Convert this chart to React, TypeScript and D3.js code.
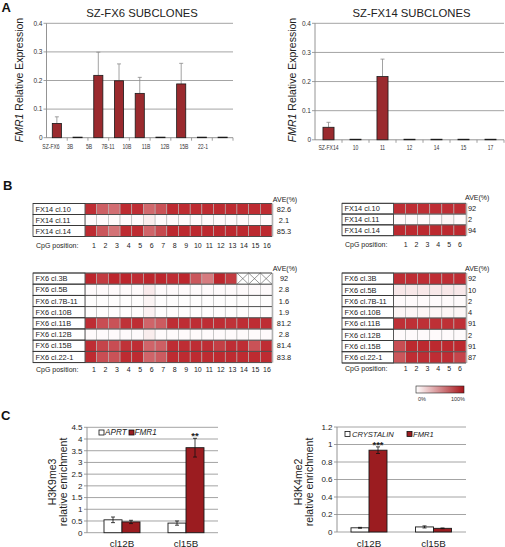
import React from 'react';
import * as d3 from 'd3';

// ---------- Panel A data ----------
const fx6Categories = ['SZ-FX6', '3B', '5B', '7B-11', '10B', '11B', '12B', '15B', '22-1'];
const fx6Values = [0.05, 0.002, 0.218, 0.199, 0.155, 0.002, 0.188, 0.002, 0.002];
const fx6Errors = [0.023, 0, 0.081, 0.059, 0.056, 0, 0.072, 0, 0];
const fx14Categories = ['SZ-FX14', '10', '11', '12', '14', '15', '17'];
const fx14Values = [0.043, 0.002, 0.217, 0.002, 0.002, 0.002, 0.002];
const fx14Errors = [0.017, 0, 0.06, 0, 0, 0, 0];
const exprTicks = [0, 0.1, 0.2, 0.3, 0.4];
const exprTickLabels = ['0', '0.1', '0.2', '0.3', '0.4'];

// ---------- Panel B data ----------
const cpg16 = ['1', '2', '3', '4', '5', '6', '7', '8', '9', '10', '11', '12', '13', '14', '15', '16'];
const cpg6 = ['1', '2', '3', '4', '5', '6'];
const fx14Rows = ['FX14 cl.10', 'FX14 cl.11', 'FX14 cl.14'];
const fx14Ave16 = ['82.6', '2.1', '85.3'];
const fx14Meth16 = [
  [92, 70, 64, 93, 92, 66, 76, 93, 93, 93, 93, 93, 93, 93, 93, 93],
  [2, 2, 2, 2, 2, 8, 2, 2, 2, 2, 2, 2, 2, 2, 2, 2],
  [93, 74, 62, 93, 93, 68, 80, 94, 94, 94, 94, 94, 94, 94, 94, 94],
];
const fx14Ave6 = ['92', '2', '94'];
const fx14Meth6 = [
  [92, 92, 92, 92, 92, 92],
  [2, 2, 2, 2, 4, 2],
  [94, 94, 94, 94, 94, 94],
];
const fx6Rows = ['FX6 cl.3B', 'FX6 cl.5B', 'FX6 cl.7B-11', 'FX6 cl.10B', 'FX6 cl.11B', 'FX6 cl.12B', 'FX6 cl.15B', 'FX6 cl.22-1'];
const fx6Ave16 = ['92', '2.8', '1.6', '1.9', '81.2', '2.8', '81.4', '83.8'];
const fx6Meth16: (number | null)[][] = [
  [95, 86, 95, 95, 92, 95, 95, 92, 95, 74, 58, 95, 86, null, null, null],
  [2, 2, 2, 2, 2, 9, 2, 2, 2, 2, 2, 2, 2, 2, 2, 2],
  [1, 1, 1, 1, 1, 5, 1, 1, 1, 1, 1, 1, 1, 1, 1, 1],
  [1, 1, 1, 1, 1, 6, 1, 1, 1, 1, 1, 1, 1, 1, 1, 1],
  [92, 78, 76, 90, 92, 68, 72, 92, 92, 92, 92, 92, 90, 92, 92, 92],
  [2, 2, 2, 2, 2, 8, 2, 2, 2, 2, 2, 2, 2, 2, 2, 2],
  [92, 82, 78, 90, 92, 68, 70, 92, 92, 92, 92, 84, 92, 92, 76, 92],
  [93, 78, 76, 93, 93, 68, 72, 93, 93, 93, 93, 93, 93, 93, 93, 93],
];
const fx6Ave6 = ['92', '10', '2', '4', '91', '2', '91', '87'];
const fx6Meth6 = [
  [92, 92, 92, 92, 92, 92],
  [10, 10, 10, 10, 10, 10],
  [2, 2, 2, 2, 2, 2],
  [4, 4, 4, 4, 4, 4],
  [91, 91, 91, 91, 91, 91],
  [2, 2, 2, 2, 2, 2],
  [78, 94, 94, 94, 94, 94],
  [74, 92, 92, 92, 92, 82],
];

// ---------- Panel C data ----------
const chipGroups = ['cl12B', 'cl15B'];
const h3k9Aprt = [0.55, 0.41];
const h3k9AprtErr = [0.12, 0.09];
const h3k9Fmr1 = [0.46, 3.63];
const h3k9Fmr1Err = [0.07, 0.4];
const h3k9Sig = ['', '**'];
const h3k9Ticks = [0, 0.5, 1, 1.5, 2, 2.5, 3, 3.5, 4, 4.5];
const h3k9TickLabels = ['0', '0.5', '1', '1.5', '2', '2.5', '3', '3.5', '4', '4.5'];
const h3k4Cryst = [0.048, 0.058];
const h3k4CrystErr = [0.005, 0.012];
const h3k4Fmr1 = [0.935, 0.042];
const h3k4Fmr1Err = [0.038, 0.004];
const h3k4Sig = ['***', ''];
const h3k4Ticks = [0, 0.2, 0.4, 0.6, 0.8, 1, 1.2];
const h3k4TickLabels = ['0', '0.2', '0.4', '0.6', '0.8', '1', '1.2'];

const FONT = "'Liberation Sans', Arial, Helvetica, sans-serif";
const HEAT_RED = '#b81b22';
const heatColor = d3.scaleLinear<string>().domain([0, 100]).range(['#ffffff', HEAT_RED]).interpolate(d3.interpolateRgb);

type APanelProps = {
  cats: string[]; vals: number[]; errs: number[];
  x0: number; x1: number; y0: number; yTop: number; barFrac: number;
  title: string; titleX: number; yLabelX: number;
  labelRange?: [number, number]; labelY: number;
};

function ExprPanel(p: APanelProps) {
  const x = d3.scaleBand<string>().domain(p.cats).range([p.x0, p.x1]).padding(0);
  const y = d3.scaleLinear().domain([0, 0.4]).range([p.y0, p.yTop]);
  const bw = x.step() * p.barFrac;
  const lab = p.labelRange
    ? d3.scalePoint<string>().domain(p.cats).range(p.labelRange)
    : (c: string) => (x(c) as number) + x.step() / 2;
  return (
    <g fontFamily={FONT}>
      <text x={p.titleX} y={16.7} textAnchor="middle" fontSize={11.3} fill="#222">{p.title}</text>
      {exprTicks.map((t, i) => (
        <g key={i}>
          {t > 0 && <line x1={p.x0} x2={p.x1} y1={y(t)} y2={y(t)} stroke="#9a9a9a" strokeWidth={0.9} />}
          <line x1={p.x0 - 3} x2={p.x0} y1={y(t)} y2={y(t)} stroke="#888" strokeWidth={0.8} />
          <text x={p.x0 - 4} y={y(t)} dy="0.35em" textAnchor="end" fontSize={6.5} fill="#333">{exprTickLabels[i]}</text>
        </g>
      ))}
      <line x1={p.x0} x2={p.x0} y1={p.y0} y2={y(0.4)} stroke="#888" strokeWidth={0.9} />
      <line x1={p.x0} x2={p.x1} y1={p.y0} y2={p.y0} stroke="#888" strokeWidth={0.9} />
      {p.cats.map((c, i) => (
        <line key={i} x1={(x(c) as number) + x.step()} x2={(x(c) as number) + x.step()} y1={p.y0} y2={p.y0 + 3} stroke="#888" strokeWidth={0.8} />
      ))}
      {p.cats.map((c, i) => {
        const cx = (x(c) as number) + x.step() / 2;
        const top = y(p.vals[i]);
        return (
          <g key={c}>
            {p.errs[i] > 0 && (
              <g stroke="#8a8a8a" strokeWidth={0.8}>
                <line x1={cx} x2={cx} y1={top} y2={y(p.vals[i] + p.errs[i])} />
                <line x1={cx - 2} x2={cx + 2} y1={y(p.vals[i] + p.errs[i])} y2={y(p.vals[i] + p.errs[i])} />
              </g>
            )}
            <rect x={cx - bw / 2} y={top} width={bw} height={p.y0 - top} fill="#9a2a2e" stroke="#1a1a1a" strokeWidth={0.8} />
          </g>
        );
      })}
      {p.cats.map((c) => (
        <text key={c} transform={`translate(${lab(c)},${p.labelY}) scale(0.72,1)`} textAnchor="middle" fontSize={7} fill="#333">{c}</text>
      ))}
      <text transform={`translate(${p.yLabelX},80) rotate(-90)`} textAnchor="middle" fontSize={10.5} fill="#222">
        <tspan fontStyle="italic">FMR1</tspan> Relative Expression
      </text>
    </g>
  );
}

type HeatProps = {
  rows: string[]; aves: string[]; meth: (number | null)[][]; cols: string[];
  x0: number; xH: number; xH1: number; yTop: number; rowH: number;
  aveX: number; aveAnchor: 'middle' | 'start'; aveHeadX: number; aveHeadY: number;
  cpgX0: number; cpgX1: number; cpgLabelX: number; cpgY: number;
};

function HeatTable(p: HeatProps) {
  const x = d3.scaleBand<string>().domain(p.cols).range([p.xH, p.xH1]);
  const y = d3.scaleBand<string>().domain(p.rows).range([p.yTop, p.yTop + p.rowH * p.rows.length]);
  const cpgX = d3.scalePoint<string>().domain(p.cols).range([p.cpgX0, p.cpgX1]);
  const yBot = p.yTop + p.rowH * p.rows.length;
  return (
    <g fontFamily={FONT} fill="#222">
      <text x={p.aveHeadX} y={p.aveHeadY} fontSize={7} textAnchor={p.aveAnchor === 'middle' ? 'middle' : 'start'}>AVE(%)</text>
      {p.rows.map((r, ri) => (
        <g key={r}>
          {p.cols.map((c, ci) => {
            const v = p.meth[ri][ci];
            const cx = x(c) as number;
            const cy = y(r) as number;
            return (
              <g key={c}>
                <rect x={cx} y={cy} width={x.bandwidth()} height={y.bandwidth()}
                  fill={v === null ? '#fff' : heatColor(v)} stroke="#b4b4b4" strokeWidth={0.6} />
                {v === null && (
                  <g stroke="#555" strokeWidth={0.6}>
                    <line x1={cx} y1={cy} x2={cx + x.bandwidth()} y2={cy + y.bandwidth()} />
                    <line x1={cx} y1={cy + y.bandwidth()} x2={cx + x.bandwidth()} y2={cy} />
                  </g>
                )}
              </g>
            );
          })}
          <rect x={p.x0} y={y(r)} width={p.xH - p.x0} height={y.bandwidth()} fill="#fff" stroke="#333" strokeWidth={0.8} />
          <text x={p.x0 + 2.5} y={(y(r) as number) + y.bandwidth() / 2} dy="0.36em" fontSize={7.4}>{r}</text>
          <text x={p.aveX} y={(y(r) as number) + y.bandwidth() / 2} dy="0.36em" fontSize={7.4} textAnchor={p.aveAnchor}>{p.aves[ri]}</text>
        </g>
      ))}
      {d3.range(p.rows.length + 1).map((i) => (
        <line key={i} x1={p.x0} x2={p.xH1} y1={p.yTop + i * p.rowH} y2={p.yTop + i * p.rowH} stroke="#333" strokeWidth={0.8} />
      ))}
      <line x1={p.xH1 + 0.6} x2={p.xH1 + 0.6} y1={p.yTop} y2={yBot} stroke="#b0b0b0" strokeWidth={1.4} />
      <text x={p.cpgLabelX} y={p.cpgY} fontSize={7}>CpG position:</text>
      {p.cols.map((c) => (
        <text key={c} x={cpgX(c)} y={p.cpgY} fontSize={7} textAnchor="middle">{c}</text>
      ))}
    </g>
  );
}

type ChipProps = {
  a: number[]; aErr: number[]; b: number[]; bErr: number[]; sig: string[];
  ticks: number[]; tickLabels: string[]; max: number;
  x0: number; x1: number; bandStart: number; bandEnd: number; y0: number; yTop: number;
  label1: string; label2: string; yl1X: number; yl2X: number;
  legendA: [number, number]; legendB: [number, number]; legendY: number; legendNames: [string, string]; legendFont: number;
};

function ChipPanel(p: ChipProps) {
  const x = d3.scaleBand<string>().domain(chipGroups).range([p.bandStart, p.bandEnd]);
  const y = d3.scaleLinear().domain([0, p.max]).range([p.y0, p.yTop]);
  const bw = 18;
  const RED = '#9b1c20';
  const series = [
    { v: p.a, e: p.aErr, fill: '#ffffff', off: -bw },
    { v: p.b, e: p.bErr, fill: RED, off: 0 },
  ];
  return (
    <g fontFamily={FONT} fill="#222">
      {p.ticks.map((t, i) => (
        <g key={i}>
          <line x1={p.x0} x2={p.x1} y1={y(t)} y2={y(t)} stroke="#9a9a9a" strokeWidth={0.9} />
          <line x1={p.x0 - 3} x2={p.x0} y1={y(t)} y2={y(t)} stroke="#888" strokeWidth={0.8} />
          <text x={p.x0 - 4.5} y={y(t)} dy="0.35em" textAnchor="end" fontSize={8}>{p.tickLabels[i]}</text>
        </g>
      ))}
      <line x1={p.x0} x2={p.x0} y1={p.y0} y2={p.yTop} stroke="#888" strokeWidth={0.9} />
      {chipGroups.map((g, gi) => {
        const cx = (x(g) as number) + x.bandwidth() / 2;
        return (
          <g key={g}>
            {series.map((s, si) => {
              const bx = cx + s.off;
              const top = y(s.v[gi]);
              const mid = bx + bw / 2;
              return (
                <g key={si}>
                  <rect x={bx} y={top} width={bw} height={p.y0 - top} fill={s.fill} stroke="#1a1a1a" strokeWidth={0.9} />
                  <g stroke="#111" strokeWidth={0.8}>
                    <line x1={mid} x2={mid} y1={y(s.v[gi] - s.e[gi])} y2={y(s.v[gi] + s.e[gi])} />
                    <line x1={mid - 2} x2={mid + 2} y1={y(s.v[gi] - s.e[gi])} y2={y(s.v[gi] - s.e[gi])} />
                    <line x1={mid - 2} x2={mid + 2} y1={y(s.v[gi] + s.e[gi])} y2={y(s.v[gi] + s.e[gi])} />
                  </g>
                </g>
              );
            })}
            {p.sig[gi] && (
              <text x={cx + bw / 2} y={y(p.b[gi] + p.bErr[gi]) + 1} textAnchor="middle" fontSize={9.5} fontWeight="bold">{p.sig[gi]}</text>
            )}
            <text x={cx} y={546.5} textAnchor="middle" fontSize={9.8}>{g}</text>
          </g>
        );
      })}
      <rect x={p.legendA[0]} y={p.legendY} width={5} height={5} fill="#fff" stroke="#111" strokeWidth={0.8} />
      <text x={p.legendA[1]} y={p.legendY + 5} fontSize={p.legendFont} fontStyle="italic">{p.legendNames[0]}</text>
      <rect x={p.legendB[0]} y={p.legendY} width={5} height={5} fill={RED} stroke="#111" strokeWidth={0.8} />
      <text x={p.legendB[1]} y={p.legendY + 5} fontSize={p.legendFont} fontStyle="italic">{p.legendNames[1]}</text>
      <text transform={`translate(${p.yl1X},482) rotate(-90)`} textAnchor="middle" fontSize={10.5}>{p.label1}</text>
      <text transform={`translate(${p.yl2X},482) rotate(-90)`} textAnchor="middle" fontSize={10.5}>{p.label2}</text>
    </g>
  );
}

export default function App() {
  return (
    <svg width={505} height={547} style={{ position: 'absolute', left: 0, top: 0, background: '#fff' }}>
      <defs>
        <linearGradient id="methGrad" x1="0" x2="1" y1="0" y2="0">
          <stop offset="0" stopColor="#ffffff" />
          <stop offset="1" stopColor="#a8141a" />
        </linearGradient>
      </defs>
      <g fontFamily={FONT} fontWeight="bold" fontSize={13} fill="#111">
        <text x={1.5} y={12}>A</text>
        <text x={3} y={190}>B</text>
        <text x={1} y={420}>C</text>
      </g>

      <ExprPanel cats={fx6Categories} vals={fx6Values} errs={fx6Errors}
        x0={46.5} x1={233} y0={137.7} yTop={23.3} barFrac={0.44}
        title="SZ-FX6 SUBCLONES" titleX={142} yLabelX={23}
        labelRange={[51, 203]} labelY={149} />
      <ExprPanel cats={fx14Categories} vals={fx14Values} errs={fx14Errors}
        x0={315} x1={504} y0={139.8} yTop={23.3} barFrac={0.41}
        title="SZ-FX14 SUBCLONES" titleX={411.5} yLabelX={295.5}
        labelY={150} />

      <HeatTable rows={fx14Rows} aves={fx14Ave16} meth={fx14Meth16} cols={cpg16}
        x0={33} xH={85} xH1={272} yTop={203.5} rowH={11}
        aveX={284} aveAnchor="middle" aveHeadX={285} aveHeadY={201.5}
        cpgX0={94} cpgX1={267} cpgLabelX={36} cpgY={247.5} />
      <HeatTable rows={fx6Rows} aves={fx6Ave16} meth={fx6Meth16} cols={cpg16}
        x0={33} xH={85} xH1={272} yTop={273} rowH={11.2}
        aveX={284} aveAnchor="middle" aveHeadX={285} aveHeadY={270.5}
        cpgX0={94} cpgX1={267} cpgLabelX={36} cpgY={372} />
      <HeatTable rows={fx14Rows} aves={fx14Ave6} meth={fx14Meth6} cols={cpg6}
        x0={342} xH={393.5} xH1={466} yTop={203.3} rowH={10.8}
        aveX={468} aveAnchor="start" aveHeadX={465} aveHeadY={200}
        cpgX0={405.7} cpgX1={460} cpgLabelX={345} cpgY={247} />
      <HeatTable rows={fx6Rows} aves={fx6Ave6} meth={fx6Meth6} cols={cpg6}
        x0={342} xH={393.5} xH1={466} yTop={273} rowH={11.25}
        aveX={468} aveAnchor="start" aveHeadX={465} aveHeadY={270.5}
        cpgX0={405.7} cpgX1={460} cpgLabelX={345} cpgY={371} />

      <rect x={416} y={386} width={48} height={7} fill="url(#methGrad)" stroke="#222" strokeWidth={0.6} />
      <text x={418} y={401} fontSize={5.5} fontFamily={FONT} fill="#333">0%</text>
      <text x={465} y={401} fontSize={5.5} fontFamily={FONT} fill="#333" textAnchor="end">100%</text>

      <ChipPanel a={h3k9Aprt} aErr={h3k9AprtErr} b={h3k9Fmr1} bErr={h3k9Fmr1Err} sig={h3k9Sig}
        ticks={h3k9Ticks} tickLabels={h3k9TickLabels} max={4.5}
        x0={87} x1={218} bandStart={90} bandEnd={218} y0={532.7} yTop={427.3}
        label1="H3K9me3" label2="relative enrichment" yl1X={56} yl2X={67}
        legendA={[99, 105]} legendB={[129, 134.5]} legendY={430} legendNames={['APRT', 'FMR1']} legendFont={8.2} />
      <ChipPanel a={h3k4Cryst} aErr={h3k4CrystErr} b={h3k4Fmr1} bErr={h3k4Fmr1Err} sig={h3k4Sig}
        ticks={h3k4Ticks} tickLabels={h3k4TickLabels} max={1.2}
        x0={337} x1={466} bandStart={336.75} bandEnd={465.75} y0={532} yTop={427}
        label1="H3K4me2" label2="relative enrichment" yl1X={302} yl2X={313}
        legendA={[345, 352]} legendB={[407, 413]} legendY={431.5} legendNames={['CRYSTALIN', 'FMR1']} legendFont={7.6} />
    </svg>
  );
}
